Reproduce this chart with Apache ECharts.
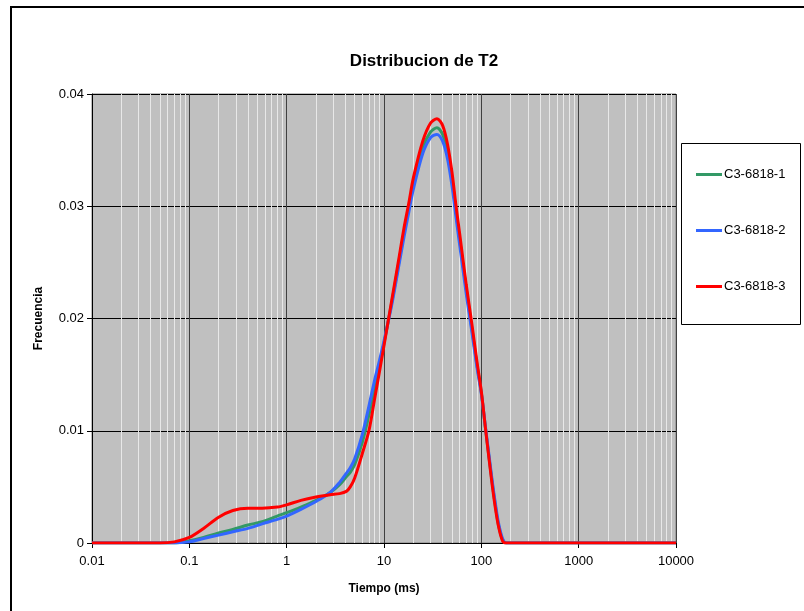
<!DOCTYPE html>
<html>
<head>
<meta charset="utf-8">
<script src="https://cdn.jsdelivr.net/npm/echarts@6/dist/echarts.min.js"></script>
<style>
  html, body { margin: 0; padding: 0; background: #ffffff; }
  #chart { width: 804px; height: 611px; }
</style>
</head>
<body>
<div id="chart"></div>
<script>
// T2 relaxation time (ms) at which each distribution is sampled
const tiempo = [0.01, 0.03, 0.05, 0.07, 0.1, 0.14, 0.2, 0.28, 0.4, 0.56, 0.8, 1, 1.4, 2, 2.8, 3.5, 4.1, 4.5, 5, 6,
  7, 8, 9, 10, 12, 14, 16, 18, 20, 25, 30, 35, 40, 45, 50, 55, 60, 70, 80, 90,
  100, 110, 120, 130, 140, 150, 165, 180, 200, 500, 1000, 5000, 10000];

const muestra1 = [0, 0, 0, 0, 0.0002, 0.0005, 0.0009, 0.0012, 0.0016, 0.0019, 0.0024, 0.0027, 0.0032, 0.0038, 0.0045, 0.0052, 0.0059, 0.0063, 0.0070, 0.0090,
  0.0114, 0.0138, 0.0158, 0.0178, 0.0214, 0.0247, 0.0276, 0.0299, 0.0320, 0.0352, 0.0366, 0.0370, 0.0364, 0.0348, 0.0324, 0.0295, 0.0270, 0.0226, 0.0191, 0.0159,
  0.0134, 0.0103, 0.0076, 0.0052, 0.0032, 0.0016, 0.0003, 0, 0, 0, 0, 0, 0];

const muestra2 = [0, 0, 0, 0, 0.0001, 0.0004, 0.0007, 0.0010, 0.0013, 0.0017, 0.0021, 0.0024, 0.0030, 0.0037, 0.0045, 0.0054, 0.0062, 0.0067, 0.0075, 0.0097,
  0.0122, 0.0145, 0.0163, 0.0180, 0.0212, 0.0244, 0.0272, 0.0295, 0.0315, 0.0347, 0.0361, 0.0364, 0.0358, 0.0342, 0.0318, 0.0290, 0.0265, 0.0222, 0.0188, 0.0157,
  0.0133, 0.0104, 0.0078, 0.0054, 0.0034, 0.0018, 0.0004, 0, 0, 0, 0, 0, 0];

const muestra3 = [0, 0, 0, 0.0001, 0.0005, 0.0013, 0.0023, 0.0029, 0.0031, 0.0031, 0.0032, 0.0034, 0.0038, 0.0041, 0.0043, 0.0044, 0.0046, 0.0050, 0.0058, 0.0080,
  0.0100, 0.0128, 0.0153, 0.0176, 0.0216, 0.0250, 0.0280, 0.0303, 0.0325, 0.0358, 0.0374, 0.0378, 0.0372, 0.0355, 0.0330, 0.0300, 0.0275, 0.0230, 0.0195, 0.0162,
  0.0135, 0.0103, 0.0075, 0.0050, 0.0030, 0.0015, 0.0002, 0, 0, 0, 0, 0, 0];

const nombres = ['C3-6818-1', 'C3-6818-2', 'C3-6818-3'];
const colores = ['#339966', '#3366ff', '#ff0000'];
const valoresY = ['0', '0.01', '0.02', '0.03', '0.04'];

// Minor logarithmic gridlines (2..9 within each decade)
const lineasMenores = [];
for (let d = -2; d < 4; d++) {
  for (let k = 2; k <= 9; k++) lineasMenores.push({ xAxis: k * Math.pow(10, d) });
}

const fuente = 'Liberation Sans, Arial, sans-serif';

const serieDe = (vals, i) => ({
  name: nombres[i],
  type: 'line',
  data: tiempo.map((t, j) => [t, vals[j]]),
  showSymbol: false,
  smooth: 0.3,
  lineStyle: { color: colores[i], width: 3 },
  itemStyle: { color: colores[i] },
  z: 10 + i
});

const chart = echarts.init(document.getElementById('chart'), null, { renderer: 'canvas' });
chart.setOption({
  animation: false,
  backgroundColor: '#ffffff',
  textStyle: { fontFamily: fuente },
  title: {
    text: 'Distribucion de T2',
    left: 419, top: 48, textAlign: 'center',
    textStyle: { fontSize: 17, fontWeight: 'bold', color: '#000', fontFamily: fuente }
  },
  graphic: [
    { type: 'rect', shape: { x: 11, y: 7, width: 820, height: 640 }, style: { fill: null, stroke: '#000', lineWidth: 2 }, z: 0 },
    { type: 'rect', shape: { x: 681.5, y: 143.5, width: 119, height: 181 }, style: { fill: '#fff', stroke: '#000', lineWidth: 1 }, z: 1 }
  ],
  legend: {
    orient: 'vertical',
    left: 696, top: 168,
    itemGap: 43,
    itemWidth: 26, itemHeight: 3,
    icon: 'rect',
    padding: 0,
    textStyle: { fontSize: 13, color: '#000', padding: [0, 0, 0, -3] },
    data: nombres,
    z: 5
  },
  grid: {
    left: 92, right: 128, top: 94, bottom: 68,
    show: true, backgroundColor: '#c0c0c0', borderColor: '#808080', borderWidth: 1
  },
  xAxis: {
    type: 'log', logBase: 10, min: 0.01, max: 10000,
    name: 'Tiempo (ms)', nameLocation: 'middle', nameGap: 40,
    nameTextStyle: { fontSize: 12, fontWeight: 'bold', color: '#000' },
    axisLine: { show: true, lineStyle: { color: '#000', width: 1 } },
    axisTick: { show: true, length: 5, inside: false, lineStyle: { color: '#000' } },
    axisLabel: { fontSize: 13, color: '#000', margin: 12, formatter: v => String(+(+v).toPrecision(2)) },
    splitLine: { show: true, lineStyle: { color: '#404040', width: 1 } }
  },
  yAxis: {
    type: 'value', min: 0, max: 0.04, interval: 0.01,
    name: 'Frecuencia', nameLocation: 'middle', nameGap: 47, nameRotate: 90,
    nameTextStyle: { fontSize: 12, fontWeight: 'bold', color: '#000' },
    axisLine: { show: true, lineStyle: { color: '#000', width: 1 } },
    axisTick: { show: true, length: 5, lineStyle: { color: '#000' } },
    axisLabel: { fontSize: 13, color: '#000', margin: 8, formatter: v => valoresY[Math.round(v * 100)] },
    splitLine: { show: true, lineStyle: { color: '#000', width: 1 } }
  },
  series: [
    {
      type: 'line', data: [], silent: true, z: 1,
      markLine: {
        silent: true, symbol: 'none', label: { show: false },
        lineStyle: { color: '#e8e8e8', width: 1, type: 'solid' },
        data: lineasMenores
      }
    },
    serieDe(muestra1, 0),
    serieDe(muestra2, 1),
    serieDe(muestra3, 2)
  ]
});
</script>
</body>
</html>
